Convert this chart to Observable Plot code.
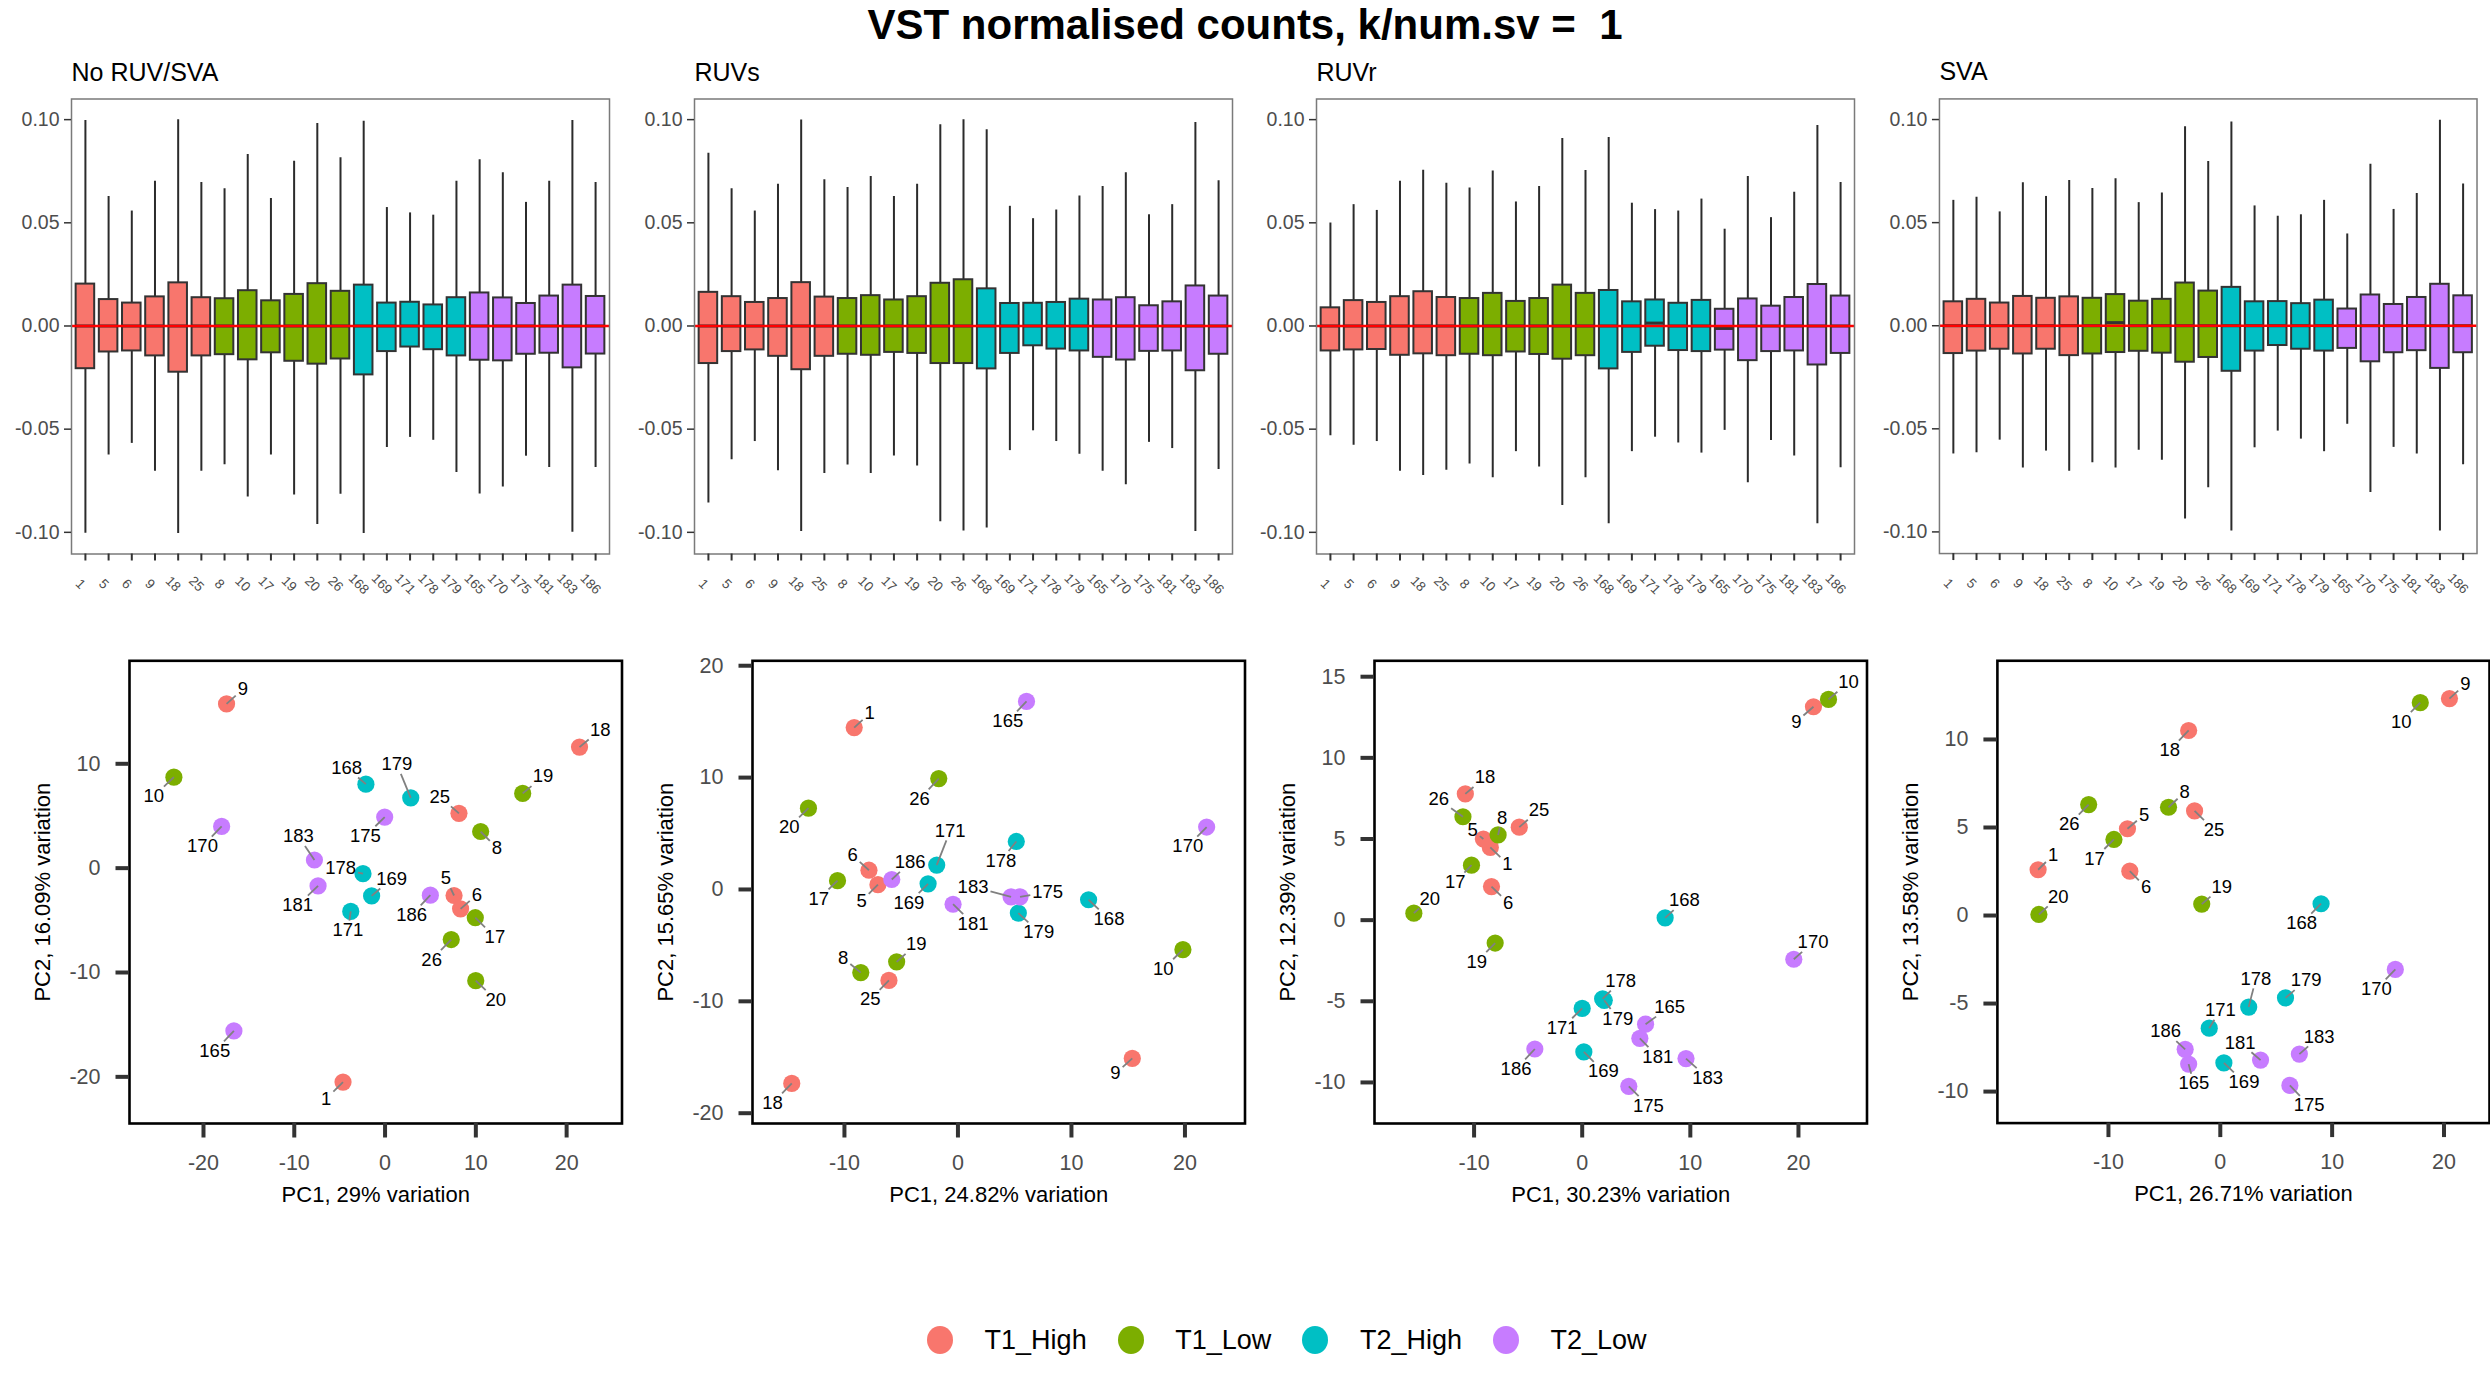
<!DOCTYPE html>
<html><head><meta charset="utf-8">
<script src="https://cdn.jsdelivr.net/npm/d3@7"></script>
<script src="https://cdn.jsdelivr.net/npm/@observablehq/plot@0.6"></script>
<style>
body{margin:0;background:#fff;font-family:"Liberation Sans",Arial,sans-serif;}
#root{position:relative;width:2490px;height:1375px;overflow:hidden;background:#fff;}
#title{position:absolute;left:0;width:2490px;top:4px;text-align:center;font-weight:bold;font-size:42px;line-height:42px;white-space:pre;color:#000;}
.cell{position:absolute;}
#legend{position:absolute;left:927px;top:1320px;height:40px;display:flex;align-items:center;font-size:27px;color:#000;}
.item{display:flex;align-items:center;margin-right:31px;}
.item span{margin-left:31.6px;}
</style></head>
<body><div id="root"><div id="title">VST normalised counts, k/num.sv =  1</div><div id="legend"></div></div>
<script>
// ---------- categories ----------
const samples = ["1","5","6","9","18","25","8","10","17","19","20","26","168","169","171","178","179","165","170","175","181","183","186"];
const groups = ["T1_High","T1_High","T1_High","T1_High","T1_High","T1_High",
  "T1_Low","T1_Low","T1_Low","T1_Low","T1_Low","T1_Low",
  "T2_High","T2_High","T2_High","T2_High","T2_High",
  "T2_Low","T2_Low","T2_Low","T2_Low","T2_Low","T2_Low"];
const groupNames = ["T1_High","T1_Low","T2_High","T2_Low"];
const groupColors = ["#F8766D","#7CAE00","#00BFC4","#C77CFF"];
const methods = ["No RUV/SVA","RUVs","RUVr","SVA"];

// ---------- boxplot statistics (per sample) ----------
const hiNone = [0.0996,0.0627,0.0557,0.0701,0.1000,0.0695,0.0665,0.0831,0.0618,0.0798,0.0981,0.0815,0.0992,0.0574,0.0548,0.0537,0.0701,0.0806,0.0742,0.0599,0.0701,0.0996,0.0695];
const q3None = [0.0203,0.0128,0.0111,0.0141,0.0209,0.0137,0.0132,0.0171,0.0122,0.0153,0.0205,0.0168,0.0198,0.0111,0.0115,0.0102,0.0137,0.0160,0.0136,0.0109,0.0145,0.0198,0.0143];
const medNone = [0,0,0,0,0,0,0,0,0,0,0,0,0,0,0,0,0,0,0,0,0,0,0];
const q1None = [-0.0207,-0.0126,-0.0121,-0.0145,-0.0224,-0.0145,-0.0139,-0.0164,-0.0130,-0.0171,-0.0185,-0.0160,-0.0237,-0.0124,-0.0102,-0.0115,-0.0145,-0.0166,-0.0169,-0.0137,-0.0132,-0.0203,-0.0136];
const loNone = [-0.1004,-0.0625,-0.0569,-0.0704,-0.1006,-0.0704,-0.0672,-0.0829,-0.0625,-0.0819,-0.0962,-0.0815,-0.1006,-0.0589,-0.0540,-0.0554,-0.0710,-0.0814,-0.0780,-0.0631,-0.0686,-0.1000,-0.0686];

const hiRUVs = [0.0837,0.0665,0.0557,0.0687,0.0998,0.0709,0.0671,0.0725,0.0627,0.0687,0.0975,0.1000,0.0951,0.0580,0.0520,0.0562,0.0630,0.0676,0.0743,0.0539,0.0588,0.0986,0.0704];
const q3RUVs = [0.0163,0.0142,0.0114,0.0133,0.0210,0.0140,0.0133,0.0147,0.0126,0.0142,0.0207,0.0224,0.0180,0.0109,0.0110,0.0114,0.0130,0.0126,0.0137,0.0098,0.0117,0.0194,0.0145];
const medRUVs = [0,0,0,0,0,0,0,0,0,0,0,0,0,0,0,0,0,0,0,0,0,0,0];
const q1RUVs = [-0.0182,-0.0124,-0.0116,-0.0147,-0.0212,-0.0147,-0.0137,-0.0142,-0.0128,-0.0133,-0.0182,-0.0182,-0.0208,-0.0133,-0.0096,-0.0112,-0.0121,-0.0152,-0.0165,-0.0123,-0.0121,-0.0217,-0.0137];
const loRUVs = [-0.0858,-0.0648,-0.0560,-0.0701,-0.0996,-0.0715,-0.0674,-0.0715,-0.0630,-0.0678,-0.0949,-0.0993,-0.0979,-0.0604,-0.0508,-0.0560,-0.0622,-0.0704,-0.0769,-0.0564,-0.0594,-0.0996,-0.0695];

const hiRUVr = [0.0499,0.0588,0.0560,0.0702,0.0755,0.0692,0.0669,0.0751,0.0601,0.0676,0.0909,0.0753,0.0914,0.0595,0.0564,0.0557,0.0615,0.0469,0.0725,0.0525,0.0648,0.0972,0.0695];
const q3RUVr = [0.0088,0.0123,0.0114,0.0142,0.0166,0.0138,0.0133,0.0158,0.0119,0.0133,0.0198,0.0158,0.0172,0.0117,0.0126,0.0110,0.0124,0.0081,0.0131,0.0096,0.0138,0.0201,0.0145];
const medRUVr = [0,0,0,0,0,0,0,0,0,0,0,0,0,0,0.0014,0,0,-0.0012,0,0,0,0,0];
const q1RUVr = [-0.0121,-0.0116,-0.0114,-0.0142,-0.0135,-0.0144,-0.0137,-0.0144,-0.0126,-0.0138,-0.0161,-0.0144,-0.0208,-0.0128,-0.0098,-0.0119,-0.0124,-0.0117,-0.0168,-0.0124,-0.0121,-0.0189,-0.0133];
const loRUVr = [-0.0532,-0.0578,-0.0560,-0.0704,-0.0725,-0.0699,-0.0669,-0.0736,-0.0609,-0.0683,-0.0870,-0.0736,-0.0958,-0.0609,-0.0539,-0.0567,-0.0616,-0.0506,-0.0760,-0.0555,-0.0630,-0.0958,-0.0687];

const hiSVA = [0.0608,0.0623,0.0552,0.0694,0.0627,0.0704,0.0665,0.0713,0.0597,0.0644,0.0965,0.0797,0.0988,0.0581,0.0531,0.0538,0.0608,0.0445,0.0783,0.0564,0.0641,0.0996,0.0687];
const q3SVA = [0.0116,0.0128,0.0110,0.0142,0.0133,0.0140,0.0133,0.0151,0.0119,0.0128,0.0207,0.0168,0.0186,0.0116,0.0117,0.0107,0.0124,0.0081,0.0149,0.0103,0.0137,0.0201,0.0145];
const medSVA = [0,0,0,0,0,0,0,0.0015,0,0,0,0,0,0,0,0,0,0,0,0,0,0,0];
const q1SVA = [-0.0135,-0.0123,-0.0114,-0.0137,-0.0114,-0.0145,-0.0137,-0.0130,-0.0124,-0.0133,-0.0177,-0.0154,-0.0221,-0.0123,-0.0096,-0.0114,-0.0123,-0.0110,-0.0175,-0.0131,-0.0121,-0.0207,-0.0131];
const loSVA = [-0.0622,-0.0616,-0.0555,-0.0690,-0.0608,-0.0706,-0.0665,-0.0690,-0.0604,-0.0653,-0.0937,-0.0786,-0.0996,-0.0592,-0.0511,-0.0550,-0.0611,-0.0478,-0.0809,-0.0590,-0.0622,-0.0996,-0.0674];

const boxYTicks = [-0.10,-0.05,0,0.05,0.10];
const boxYDomain = [-0.1105,0.1100];

// ---------- PCA coordinates (PC1, PC2) and repelled label positions ----------
const pc1None = [-4.63,7.60,8.32,-17.46,21.42,8.14,10.53,-23.26,9.94,15.16,9.99,7.29,-2.11,-1.48,-3.78,-2.43,2.83,-16.65,-18.0,-0.04,-7.38,-7.78,4.99];
const pc2None = [-20.5,-2.62,-3.90,15.74,11.6,5.25,3.51,8.72,-4.75,7.16,-10.78,-6.84,8.05,-2.66,-4.15,-0.53,6.74,-15.6,4.0,4.89,-1.70,0.78,-2.59];
const lab1None = [-6.48,6.70,10.12,-15.66,23.71,6.03,12.33,-25.47,12.10,17.41,12.19,5.13,-4.23,0.72,-4.09,-4.90,1.30,-18.76,-20.11,-2.16,-9.63,-9.54,2.92];
const lab2None = [-22.09,-0.99,-2.55,17.16,13.26,6.84,1.91,6.88,-6.60,8.79,-12.62,-8.79,9.61,-1.03,-5.96,-0.04,9.96,-17.52,2.09,3.09,-3.55,3.05,-4.50];

const pc1RUVs = [-9.14,-7.05,-7.84,15.36,-14.64,-6.08,-8.56,19.82,-10.61,-5.40,-13.17,-1.69,11.51,-2.63,-1.87,5.14,5.32,6.04,21.91,5.47,-0.43,4.68,-5.83];
const pc2RUVs = [14.47,0.43,1.72,-15.10,-17.34,-8.13,-7.43,-5.38,0.79,-6.47,7.27,9.91,-0.92,0.50,2.18,4.29,-2.11,16.81,5.58,-0.66,-1.32,-0.66,0.89];
const lab1RUVs = [-7.77,-8.49,-9.28,13.88,-16.33,-7.73,-10.11,18.09,-12.27,-3.67,-14.86,-3.38,13.31,-4.32,-0.68,3.78,7.12,4.39,20.25,7.91,1.33,1.33,-4.21];
const lab2RUVs = [15.76,-1.02,3.04,-16.45,-19.09,-9.84,-6.14,-7.10,-0.86,-4.89,5.58,8.09,-2.64,-1.19,5.25,2.58,-3.80,15.06,3.86,-0.26,-3.07,0.23,2.44];

const pc1RUVr = [-8.50,-9.14,-8.39,21.39,-10.81,-5.82,-7.78,22.78,-10.24,-8.05,-15.57,-11.03,7.67,0.15,0.0,1.89,2.04,5.86,19.57,4.31,5.33,9.60,-4.38];
const pc2RUVr = [4.48,5.00,2.07,13.15,7.78,5.73,5.25,13.60,3.39,-1.41,0.43,6.37,0.14,-8.12,-5.44,-4.85,-4.94,-6.41,-2.41,-10.24,-7.28,-8.53,-7.94];
const lab1RUVr = [-6.91,-10.13,-6.84,19.80,-8.99,-4.0,-7.41,24.63,-11.75,-9.75,-14.09,-13.26,9.45,1.96,-1.85,3.55,3.29,8.09,21.35,6.12,6.99,11.60,-6.12];
const lab2RUVr = [3.46,5.53,1.07,12.22,8.80,6.78,6.30,14.67,2.34,-2.57,1.32,7.44,1.21,-9.33,-6.64,-3.75,-6.07,-5.35,-1.36,-11.44,-8.42,-9.71,-9.17];

const pc1SVA = [-16.29,-8.30,-8.09,20.49,-2.83,-2.30,-4.63,17.88,-9.51,-1.66,-16.22,-11.77,9.01,0.32,-0.99,2.54,5.83,-2.83,15.65,6.22,3.60,7.07,-3.14];
const pc2SVA = [2.60,4.93,2.52,12.32,10.51,5.94,6.15,12.09,4.32,0.65,0.06,6.30,0.67,-8.37,-6.40,-5.20,-4.68,-8.44,-3.06,-9.65,-8.21,-7.87,-7.60];
const lab1SVA = [-14.95,-6.82,-6.64,21.91,-4.52,-0.57,-3.18,16.18,-11.24,0.14,-14.49,-13.50,7.28,2.12,0.0,3.18,7.67,-2.37,13.96,7.95,1.77,8.83,-4.88];
const lab2SVA = [3.44,5.73,1.59,13.14,9.38,4.87,7.01,11.0,3.23,1.62,1.07,5.18,-0.44,-9.46,-5.37,-3.59,-3.69,-9.53,-4.18,-10.79,-7.22,-6.88,-6.59];

const pcaXLabels = ["PC1, 29% variation","PC1, 24.82% variation","PC1, 30.23% variation","PC1, 26.71% variation"];
const pcaYLabels = ["PC2, 16.09% variation","PC2, 15.65% variation","PC2, 12.39% variation","PC2, 13.58% variation"];
const pcaXDomains = [[-28.15,26.1],[-18.1,25.29],[-19.21,26.34],[-19.93,24.07]];
const pcaYDomains = [[-24.47,19.87],[-20.92,20.44],[-12.53,15.98],[-11.79,14.47]];
const pcaXTicks = [[-20,-10,0,10,20],[-10,0,10,20],[-10,0,10,20],[-10,0,10,20]];
const pcaYTicks = [[-20,-10,0,10],[-20,-10,0,10,20],[-10,-5,0,5,10,15],[-10,-5,0,5,10]];

// ---------- build ----------
const FONT = "'Liberation Sans', Arial, Helvetica, sans-serif";
const colW = 622.5;
const root = document.getElementById("root");
const colorScale = {domain: groupNames, range: groupColors};

function place(el, left, top) {
  const d = document.createElement("div");
  d.className = "cell";
  d.style.left = left + "px";
  d.style.top = top + "px";
  d.appendChild(el);
  root.appendChild(d);
}

function boxPanel(i, hi, q3, med, q1, lo) {
  const data = samples.map((s, j) => ({sample: s, group: groups[j], hi: hi[j], q3: q3[j], med: med[j], q1: q1[j], lo: lo[j]}));
  return Plot.plot({
    width: 623, height: 620,
    marginLeft: 71, marginRight: 14, marginTop: 98.5, marginBottom: 66.5,
    style: {fontFamily: FONT, background: "transparent", overflow: "visible"},
    x: {type: "band", domain: samples, paddingInner: 0.2, paddingOuter: 0.2, axis: null, round: false},
    y: {domain: boxYDomain, axis: null},
    color: colorScale,
    marks: [
      Plot.ruleX(data, {x: "sample", y1: "lo", y2: "hi", stroke: "#2b2b2b", strokeWidth: 2}),
      Plot.barY(data, {x: "sample", y1: "q1", y2: "q3", fill: "group", stroke: "#333333", strokeWidth: 2, inset: 0}),
      Plot.tickY(data, {x: "sample", y: "med", stroke: "#333333", strokeWidth: 3}),
      Plot.ruleY([0], {stroke: "#ff0000", strokeWidth: 2.6}),
      Plot.frame({stroke: "#7a7a7a", strokeWidth: 1.5}),
      Plot.axisY({ticks: boxYTicks, tickSize: 7, tickPadding: 5, tickFormat: d => d.toFixed(2), fontSize: 19.5, stroke: "#333333", fill: "#4d4d4d", strokeWidth: 1.5, label: null}),
      Plot.axisX({tickSize: 7, tickFormat: () => "", stroke: "#333333", strokeWidth: 2, label: null}),
      Plot.text(samples, {x: d => d, text: d => d, frameAnchor: "bottom", dy: 30, dx: -5, rotate: 45, fontSize: 13.5, fill: "#4d4d4d", textAnchor: "middle", lineAnchor: "middle"}),
      Plot.text([methods[i]], {text: d => d, frameAnchor: "top-left", dy: -26.5, fontSize: 25, textAnchor: "start", lineAnchor: "middle", fill: "#000"})
    ]
  });
}

function pcaPanel(i, pc1, pc2, lx, ly) {
  const W = 623, H = 640, ml = 129, mr = 1.5, mt = 40.3, mb = 137;
  const xd = pcaXDomains[i], yd = pcaYDomains[i];
  const xs = Plot.scale({x: {domain: xd, range: [ml, W - mr]}});
  const ys = Plot.scale({y: {domain: yd, range: [H - mb, mt]}});
  const fs = 18.5;
  const data = samples.map((s, j) => {
    const px = xs.apply(pc1[j]), py = ys.apply(pc2[j]);
    const tx = xs.apply(lx[j]), ty = ys.apply(ly[j]);
    const hw = s.length * 0.556 * fs / 2 + 2, hh = 0.72 * fs / 2 + 3;
    const dx = px - tx, dy = py - ty;
    const t = Math.min(Math.abs(dx) > 1e-6 ? hw / Math.abs(dx) : Infinity, Math.abs(dy) > 1e-6 ? hh / Math.abs(dy) : Infinity);
    return {sample: s, group: groups[j], x: pc1[j], y: pc2[j], lx: lx[j], ly: ly[j],
      ex: xs.invert(tx + dx * t), ey: ys.invert(ty + dy * t), show: t < 0.92};
  });
  return Plot.plot({
    width: W, height: H, marginLeft: ml, marginRight: mr, marginTop: mt, marginBottom: mb,
    style: {fontFamily: FONT, background: "transparent", overflow: "visible"},
    x: {domain: xd, axis: null},
    y: {domain: yd, axis: null},
    color: colorScale,
    marks: [
      Plot.dot(data, {x: "x", y: "y", fill: "group", r: 8.6}),
      Plot.link(data.filter(d => d.show), {x1: "x", y1: "y", x2: "ex", y2: "ey", stroke: "#808080", strokeWidth: 1.8}),
      Plot.text(data, {x: "lx", y: "ly", text: "sample", fontSize: fs, fill: "#000", lineAnchor: "middle"}),
      Plot.frame({stroke: "#000", strokeWidth: 2.6}),
      Plot.axisX({ticks: pcaXTicks[i], tickSize: 14.5, tickPadding: 16.5, strokeWidth: 4, stroke: "#333333", fill: "#4d4d4d", fontSize: 21.5, tickFormat: d => String(d), label: null}),
      Plot.axisY({ticks: pcaYTicks[i], tickSize: 13.5, tickPadding: 15.5, strokeWidth: 4, stroke: "#333333", fill: "#4d4d4d", fontSize: 21.5, tickFormat: d => String(d), label: null}),
      Plot.text([pcaXLabels[i]], {text: d => d, frameAnchor: "bottom", dy: 71, fontSize: 22, lineAnchor: "middle", fill: "#000"}),
      Plot.text([pcaYLabels[i]], {text: d => d, frameAnchor: "left", dx: -87, rotate: -90, fontSize: 22, lineAnchor: "middle", textAnchor: "middle", fill: "#000"})
    ]
  });
}

const boxSets = [
  [hiNone, q3None, medNone, q1None, loNone],
  [hiRUVs, q3RUVs, medRUVs, q1RUVs, loRUVs],
  [hiRUVr, q3RUVr, medRUVr, q1RUVr, loRUVr],
  [hiSVA, q3SVA, medSVA, q1SVA, loSVA]
];
const pcaSets = [
  [pc1None, pc2None, lab1None, lab2None],
  [pc1RUVs, pc2RUVs, lab1RUVs, lab2RUVs],
  [pc1RUVr, pc2RUVr, lab1RUVr, lab2RUVr],
  [pc1SVA, pc2SVA, lab1SVA, lab2SVA]
];

for (let i = 0; i < 4; i++) {
  place(boxPanel(i, ...boxSets[i]), i * colW, 0);
  place(pcaPanel(i, ...pcaSets[i]), i * colW, 620);
}

// ---------- legend ----------
const legend = document.getElementById("legend");
groupNames.forEach((g, k) => {
  const item = document.createElement("div");
  item.className = "item";
  item.innerHTML = `<svg width="26" height="28" viewBox="0 0 26 28"><ellipse cx="13" cy="14" rx="13" ry="14" fill="${groupColors[k]}"/></svg><span>${g}</span>`;
  legend.appendChild(item);
});
</script>
</body></html>
